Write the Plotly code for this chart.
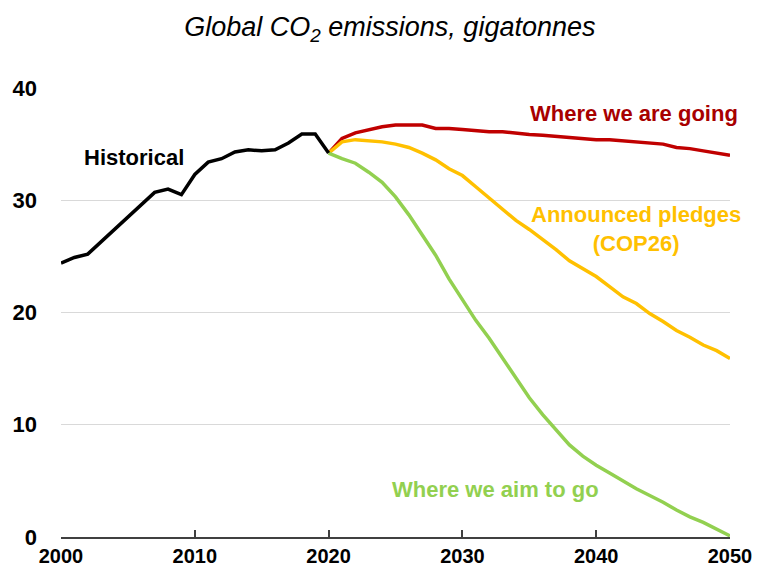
import plotly.graph_objects as go

# Global CO2 emissions (Gt), history and scenarios
hist_years = list(range(2000, 2021))
hist_vals = [24.4, 24.9, 25.2, 26.3, 27.4, 28.5, 29.6, 30.7, 31.0, 30.5,
             32.3, 33.4, 33.7, 34.3, 34.5, 34.4, 34.5, 35.1, 35.9, 35.9, 34.2]

proj_years = list(range(2020, 2051))
going_vals = [34.2, 35.5, 36.0, 36.3, 36.55, 36.7, 36.7, 36.7, 36.4, 36.4,
              36.3, 36.2, 36.1, 36.1, 35.95, 35.85, 35.8, 35.7, 35.6, 35.5,
              35.4, 35.4, 35.3, 35.2, 35.1, 35.0, 34.7, 34.6, 34.4, 34.2, 34.0]
pledges_vals = [34.2, 35.2, 35.4, 35.3, 35.2, 35.0, 34.7, 34.2, 33.6, 32.8,
                32.2, 31.2, 30.2, 29.1, 28.2, 27.4, 26.5, 25.6, 24.6, 23.9,
                23.2, 22.3, 21.4, 20.8, 19.9, 19.2, 18.4, 17.8, 17.1, 16.6, 15.9]
aim_vals = [34.2, 33.7, 33.3, 32.5, 31.6, 30.3, 28.7, 26.9, 25.1, 23.0,
            21.1, 19.3, 17.7, 15.9, 14.1, 12.4, 10.9, 9.5, 8.2, 7.2,
            6.4, 5.7, 5.0, 4.3, 3.7, 3.1, 2.4, 1.8, 1.3, 0.7, 0.1]

x_ticks = [2000, 2010, 2020, 2030, 2040, 2050]
y_ticks = [0, 10, 20, 30, 40]

BLACK = "#000000"
RED = "#c00000"
GOLD = "#ffc000"
GREEN = "#92d050"
FONT = "Liberation Sans, Arial, sans-serif"

fig = go.Figure()
for xs, ys, col in [(proj_years, going_vals, RED),
                    (proj_years, pledges_vals, GOLD),
                    (proj_years, aim_vals, GREEN),
                    (hist_years, hist_vals, BLACK)]:
    fig.add_trace(go.Scatter(x=xs, y=ys, mode="lines",
                             line=dict(color=col, width=3.5),
                             showlegend=False, hoverinfo="skip"))

# Series labels: (text, x, xref, y, colour, anchor)
labels = [
    ("Historical", 2005.46, "x", 33.85, BLACK, "center"),
    ("Where we are going", 1.015, "paper", 37.7, "#a80000", "right"),
    ("Announced pledges<br>(COP26)", 2042.97, "x", 27.4, GOLD, "center"),
    ("Where we aim to go", 2032.5, "x", 4.2, GREEN, "center"),
]
for text, x, xref, y, col, anchor in labels:
    fig.add_annotation(x=x, xref=xref, y=y, yref="y",
                       text="<b>%s</b>" % text.replace("<br>", "</b><br><b>"),
                       xanchor=anchor, yanchor="middle", showarrow=False,
                       align="center",
                       font=dict(family=FONT, size=22, color=col))

fig.update_layout(
    width=760, height=569,
    margin=dict(l=61, r=30, t=88, b=32, autoexpand=False),
    paper_bgcolor="white", plot_bgcolor="white",
    title=dict(text="<i>Global CO<sub>2</sub> emissions, gigatonnes</i>",
               x=0.513, xanchor="center", y=0.953, yanchor="middle",
               font=dict(family=FONT, size=27, color=BLACK)),
    xaxis=dict(range=[2000, 2050], tickvals=x_ticks,
               ticktext=["<b>%d</b>" % v for v in x_ticks],
               showgrid=False, zeroline=False, automargin=False,
               showline=True, linecolor="#404040", linewidth=1.5,
               ticks="inside", ticklen=7, tickcolor="#404040", tickwidth=1.5,
               tickfont=dict(family=FONT, size=20, color=BLACK)),
    yaxis=dict(range=[0, 40], tickvals=y_ticks,
               ticktext=["<b>%d</b>" % v for v in y_ticks],
               showgrid=True, gridcolor="#d9d9d9", gridwidth=1,
               zeroline=False, showline=False, ticks="", automargin=False,
               ticklabelstandoff=23,
               tickfont=dict(family=FONT, size=22, color=BLACK)),
)

fig.write_html("out.html")
